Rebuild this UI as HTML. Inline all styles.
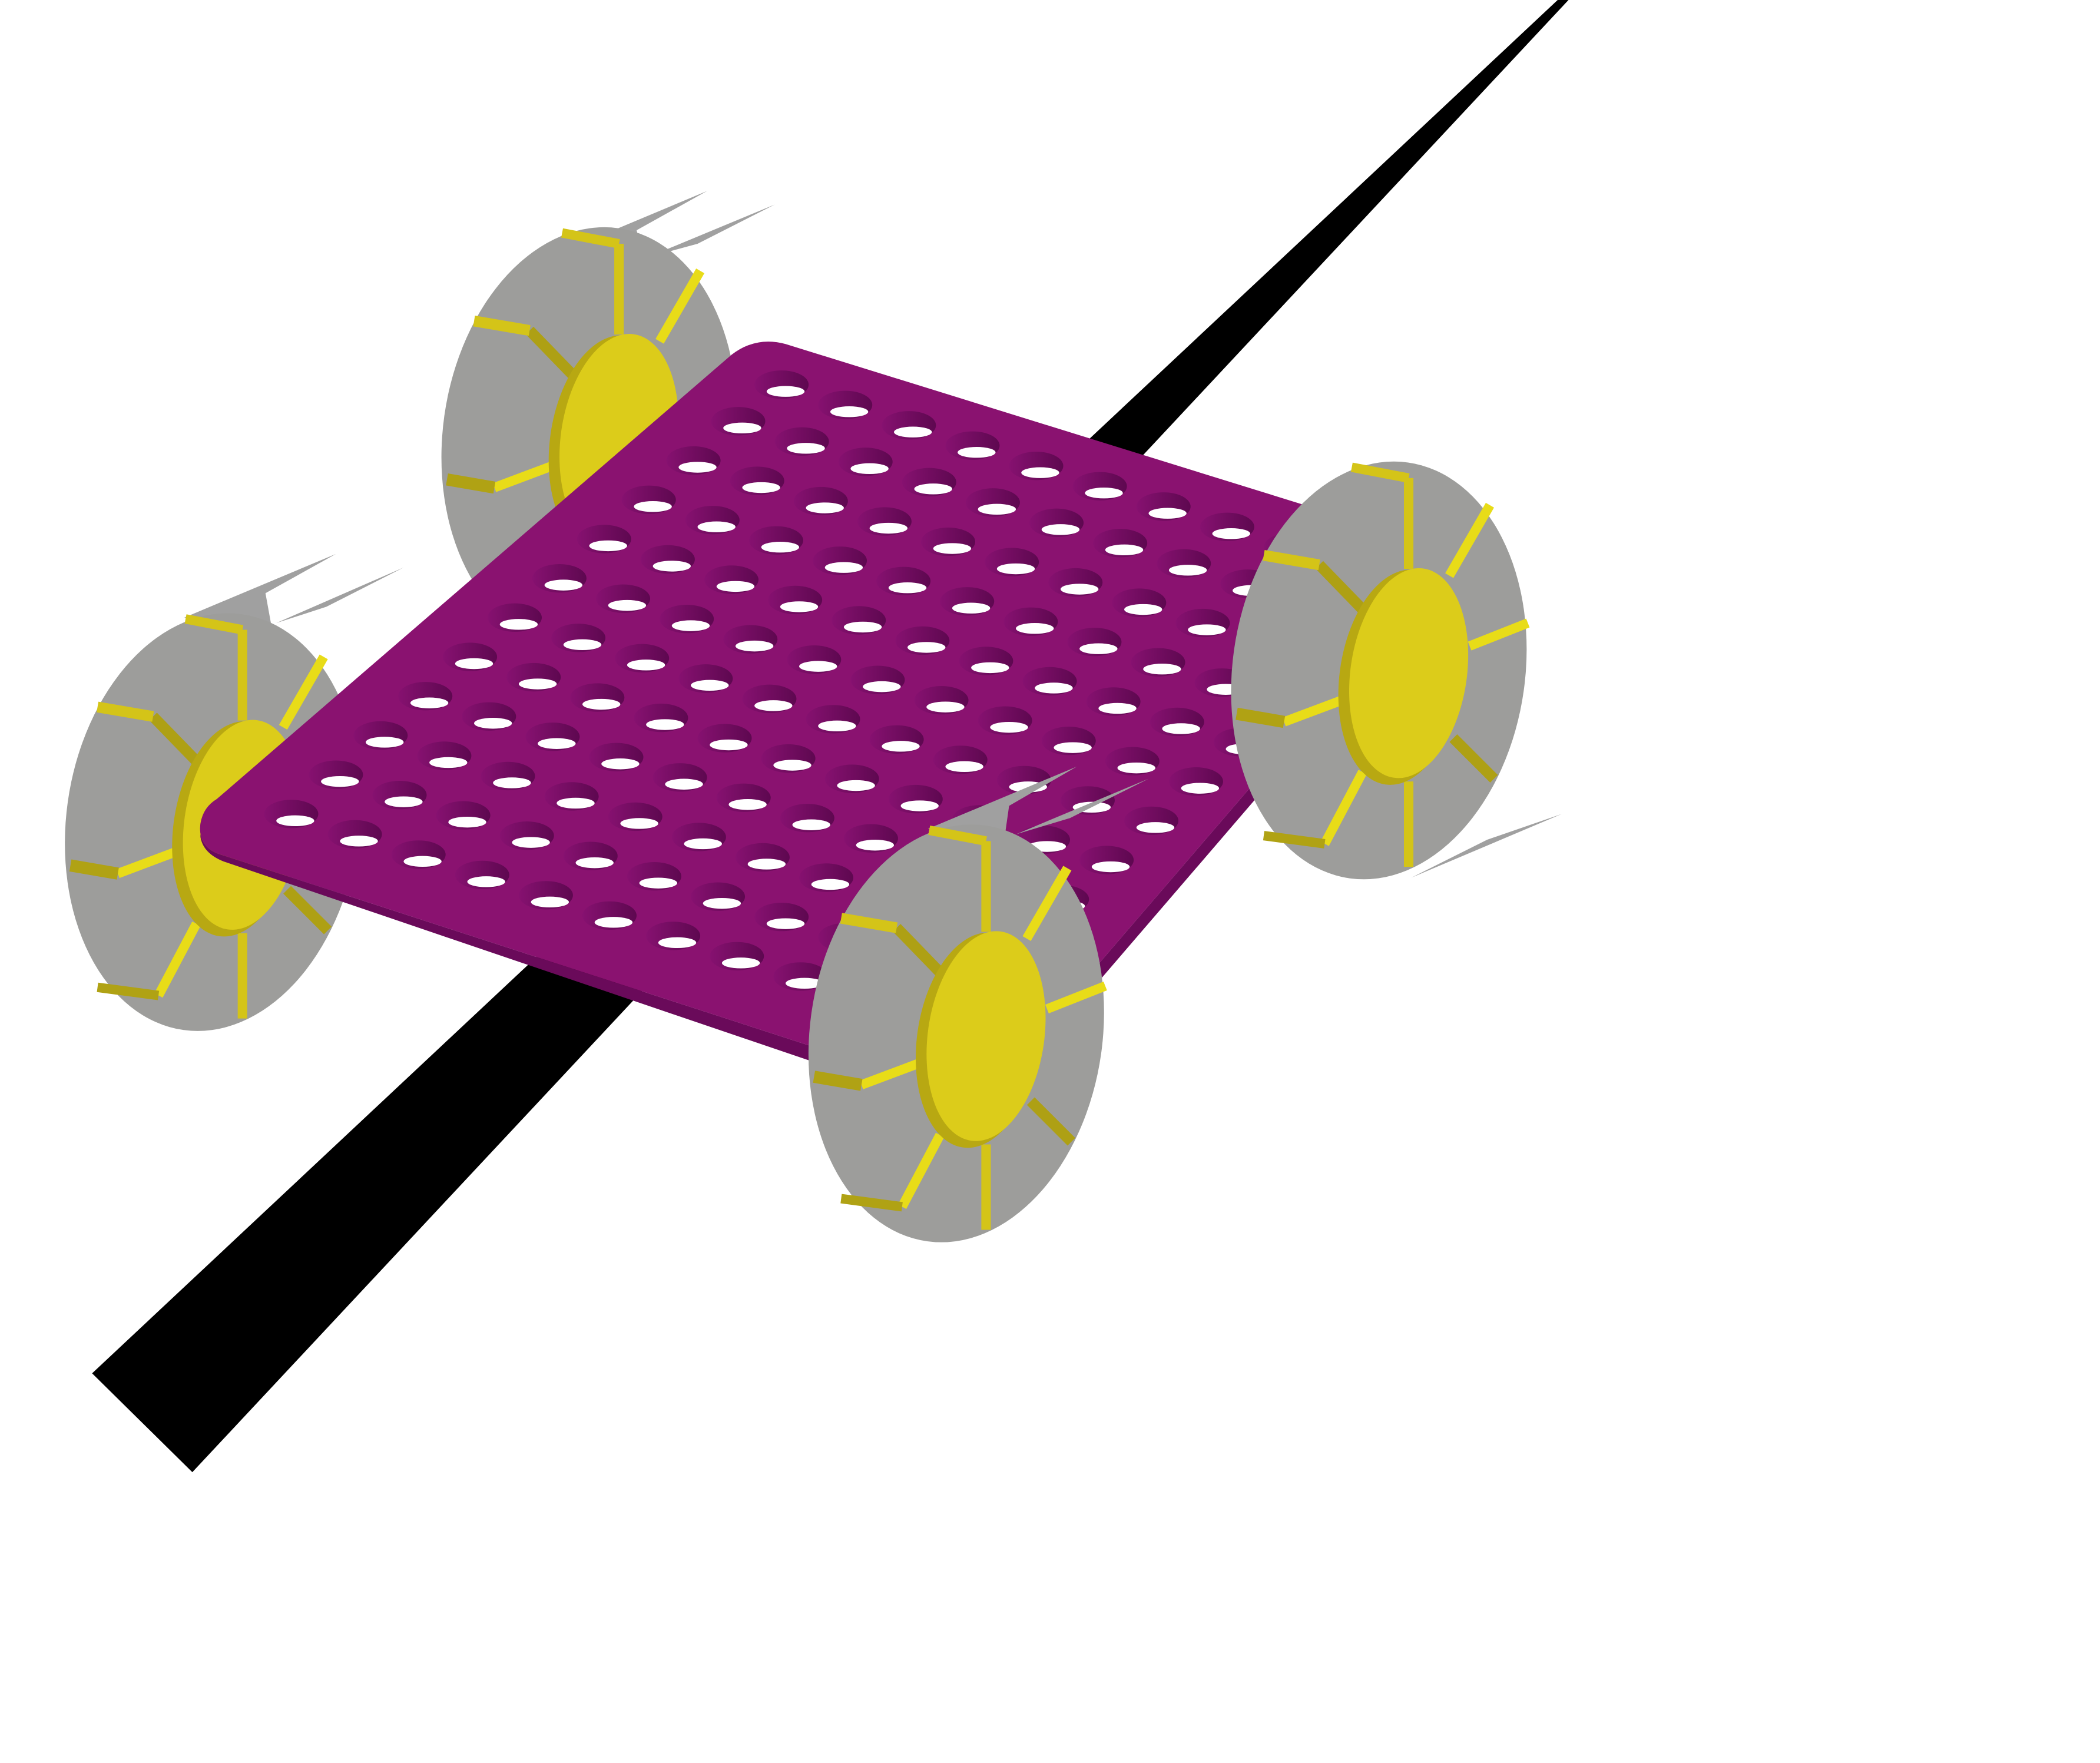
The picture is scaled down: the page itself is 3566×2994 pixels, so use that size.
<!DOCTYPE html>
<html><head><meta charset="utf-8"><style>html,body{margin:0;padding:0;background:#fff}svg{display:block}</style></head>
<body>
<svg width="3566" height="2994" viewBox="0 0 1550.4 1301.7" xmlns="http://www.w3.org/2000/svg">
<defs>
<linearGradient id="hg" x1="0" y1="0" x2="1" y2="0">
  <stop offset="0" stop-color="#861170"/><stop offset="1" stop-color="#5e0850"/>
</linearGradient>
<g id="wheel">
  <ellipse cx="0" cy="0" rx="108" ry="155" transform="rotate(8)" fill="#9d9d9b"/>
  <g stroke-linecap="butt">
    <line x1="22" y1="-75" x2="22" y2="-142" stroke="#d4c418" stroke-width="7"/>
    <line x1="22" y1="-142" x2="-20" y2="-150" stroke="#d4c418" stroke-width="7"/>
    <line x1="52" y1="-70" x2="82" y2="-122" stroke="#e8dc18" stroke-width="7"/>
    <line x1="67" y1="-18" x2="110" y2="-35" stroke="#e8dc18" stroke-width="7"/>
    <line x1="55" y1="50" x2="85" y2="80" stroke="#aea014" stroke-width="8"/>
    <line x1="22" y1="82" x2="22" y2="145" stroke="#d4c418" stroke-width="7"/>
    <line x1="-12" y1="75" x2="-40" y2="128" stroke="#e8dc18" stroke-width="7"/>
    <line x1="-40" y1="128" x2="-85" y2="122" stroke="#b0a214" stroke-width="7"/>
    <line x1="-22" y1="20" x2="-70" y2="38" stroke="#e8dc18" stroke-width="7"/>
    <line x1="-70" y1="38" x2="-105" y2="32" stroke="#b0a214" stroke-width="9"/>
    <line x1="-12" y1="-45" x2="-44" y2="-78" stroke="#aea014" stroke-width="8"/>
    <line x1="-44" y1="-78" x2="-85" y2="-85" stroke="#d4c418" stroke-width="8"/>
  </g>
  <ellipse cx="16" cy="5" rx="45" ry="80" transform="rotate(8 16 5)" fill="#b8a812"/>
  <ellipse cx="22" cy="2" rx="43" ry="78" transform="rotate(8 22 2)" fill="#dccc1a"/>
</g>
<g id="h">
  <ellipse cx="0" cy="0" rx="20" ry="10.5" fill="url(#hg)"/>
  <ellipse cx="3" cy="5" rx="14" ry="4" fill="#fff"/>
</g>
<g id="row">
  <use href="#h" x="215" y="601"/><use href="#h" x="262" y="616"/><use href="#h" x="309" y="631"/>
  <use href="#h" x="356" y="646"/><use href="#h" x="403" y="661"/><use href="#h" x="450" y="676"/>
  <use href="#h" x="497" y="691"/><use href="#h" x="544" y="706"/><use href="#h" x="591" y="721"/>
  <use href="#h" x="638" y="736"/><use href="#h" x="685" y="751"/>
</g>
<clipPath id="pc"><path d="M160,590 L540,262 Q558,248 580,254 L1073,407 L724,813 L160,630 Q146,624 148,608 Q150,596 160,590 Z"/></clipPath>
</defs>
<polygon points="68,1014 1150,0 1158,0 142,1087" fill="#000"/>
<!-- back wheels -->
<polygon points="410,188 522,141 470,170 475,190" fill="#a0a0a0"/>
<polygon points="478,190 572,151 515,180" fill="#a0a0a0"/>
<use href="#wheel" transform="translate(435,322)"/>
<polygon points="136,456 248,409 196,438 200,460" fill="#a0a0a0"/>
<polygon points="204,460 298,419 241,448" fill="#a0a0a0"/>
<use href="#wheel" transform="translate(157,607)"/>
<!-- plate -->
<path d="M148,604 L148,618 Q150,630 165,636 L724,826 L1073,420 L1073,407 L724,813 L160,630 Q146,624 148,608 Z" fill="#6a0a5a"/>
<path d="M160,590 L540,262 Q558,248 580,254 L1073,407 L724,813 L160,630 Q146,624 148,608 Q150,596 160,590 Z" fill="#8a1270"/>
<g clip-path="url(#pc)">
  <use href="#row"/>
  <use href="#row" transform="translate(33,-29)"/>
  <use href="#row" transform="translate(66,-58)"/>
  <use href="#row" transform="translate(99,-87)"/>
  <use href="#row" transform="translate(132,-116)"/>
  <use href="#row" transform="translate(165,-145)"/>
  <use href="#row" transform="translate(198,-174)"/>
  <use href="#row" transform="translate(231,-203)"/>
  <use href="#row" transform="translate(264,-232)"/>
  <use href="#row" transform="translate(297,-261)"/>
  <use href="#row" transform="translate(330,-290)"/>
  <use href="#row" transform="translate(362,-317)"/>
</g>
<!-- front wheels -->
<polygon points="685,612 795,566 745,595 742,616" fill="#a0a0a0"/>
<polygon points="750,616 848,575 790,604" fill="#a0a0a0"/>
<use href="#wheel" transform="translate(1018,495)"/>
<polygon points="1042,648 1153,601 1098,620" fill="#a0a0a0"/>
<use href="#wheel" transform="translate(706,763)"/>
</svg>
</body></html>
